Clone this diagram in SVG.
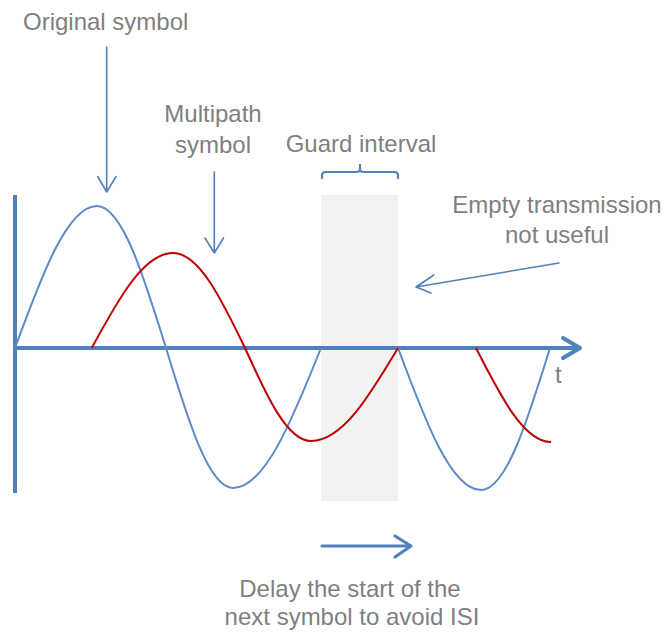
<svg xmlns="http://www.w3.org/2000/svg" width="667" height="635" viewBox="0 0 667 635">
<style>
.lbl{font-family:"Liberation Sans",Arial,sans-serif;font-size:24px;fill:#7f7f7f}
.mid{text-anchor:middle}
.ptr{fill:none;stroke:#4f81bd;stroke-width:1.6;stroke-linecap:round;stroke-linejoin:round}
.thick{stroke-width:3.2}
.axis{fill:none;stroke:#4f81bd;stroke-width:4}
.blue{fill:none;stroke:#5b8ac6;stroke-width:2}
.red{fill:none;stroke:#c00000;stroke-width:2}
</style>
<rect width="667" height="635" fill="#ffffff"/>
<g id="guard-interval">
  <rect x="321" y="195" width="77" height="306" fill="#f2f2f2"/>
  <path d="M322,179 L322,175.5 Q322,172 325.5,172 L356.5,172 Q360,172 360,168.5 L360,164 M360,168.5 Q360,172 363.5,172 L394.5,172 Q398,172 398,175.5 L398,179" fill="none" stroke="#4f81bd" stroke-width="2"/>
  <text class="lbl mid" x="361" y="152">Guard interval</text>
</g>
<g id="axes">
  <line class="axis" x1="15" y1="195" x2="15" y2="493"/>
  <line class="axis" x1="13" y1="348" x2="580" y2="348"/>
  <polyline class="axis" points="563,338 580,348 563,358" stroke-linejoin="round" stroke-linecap="round"/>
  <text class="lbl" x="555" y="383">t</text>
</g>
<g id="original-symbol">
  <path class="blue" d="M15,348 C41.7,275.3 67.3,206 97,206 C122,206 143.5,275.3 166,348 C187.8,419.7 208.8,488 233,488 C264.8,488 292.3,419.7 321,348"/>
  <path class="blue" d="M398,348 C425.1,420.7 451,490 481,490 C506,490 527.5,420.7 550,348"/>
  <text class="lbl" x="23" y="30">Original symbol</text>
</g>
<g id="multipath-symbol">
  <path class="red" d="M91.7,348 C118.2,299.3 143.6,253 173,253 C199.1,253 221.5,299.3 245,348 C266.5,395.6 287.1,441 311,441 C342.5,441 369.6,395.6 398,348"/>
  <path class="red" d="M476,348 C500.5,396.2 523.9,442 551,442"/>
  <text class="lbl mid" x="213" y="122">Multipath</text>
  <text class="lbl mid" x="213" y="153">symbol</text>
</g>
<g id="empty-transmission">
  <text class="lbl mid" x="557" y="213">Empty transmission</text>
  <text class="lbl mid" x="557" y="243">not useful</text>
</g>
<g id="delay-note">
  <text class="lbl mid" x="350" y="597">Delay the start of the</text>
  <text class="lbl mid" x="352" y="625">next symbol to avoid ISI</text>
</g>
<g id="connectors">
  <path class="ptr" d="M106.7,47 L106.7,192 M97.7,176.5 L106.7,192 L116,176.5"/>
  <path class="ptr" d="M214.3,172 L214.3,253 M205,238 L214.3,253 L223.5,238"/>
  <path class="ptr" d="M559,263 L416,287 M433.8,275 L416,287 L431,293"/>
  <path class="ptr thick" d="M322,546 L411,546 M395,536 L411,546 L395,557"/>
</g>
</svg>
